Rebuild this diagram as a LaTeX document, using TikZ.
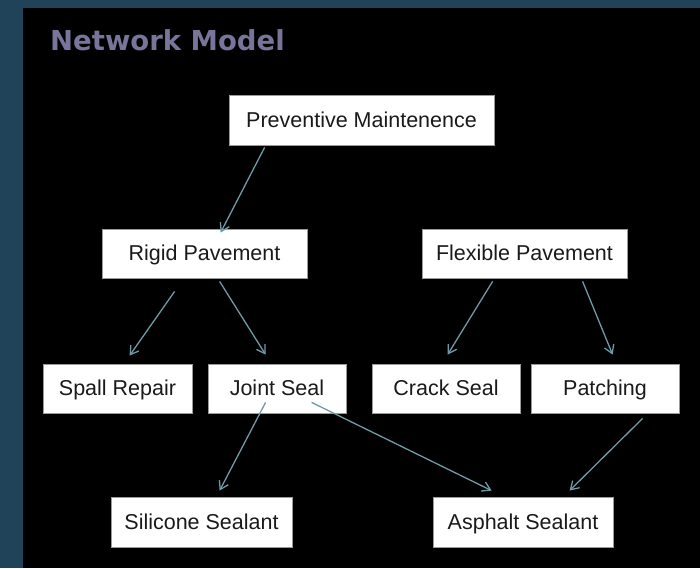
\documentclass[tikz,border=0pt]{standalone}
\usepackage{fontspec}
\setmainfont{Liberation Sans}
\newfontfamily\titlefont{DejaVu Sans}
\usetikzlibrary{arrows.meta,calc}
\definecolor{bgblue}{HTML}{204359}
\definecolor{titlecol}{HTML}{78749A}
\definecolor{arrcol}{HTML}{6F9AA6}
\definecolor{boxline}{HTML}{9A9A9A}
\definecolor{txtcol}{HTML}{1A1A1A}
\begin{document}
\begin{tikzpicture}[x=1pt,y=-1pt,
  box/.style={draw=boxline,line width=0.8pt,fill=white,inner sep=0pt,
    text height=16pt,text depth=2pt,
    minimum height=49pt,text=txtcol,font=\fontsize{21.5}{24}\selectfont},
  arr/.style={draw=arrcol,line width=1.3pt,-{Straight Barb[length=8pt,width=10pt]}}]
\useasboundingbox (0,0) rectangle (700,568);
\fill[bgblue] (0,0) rectangle (700,568);
\fill[black] (23,8) rectangle (700,568);
\node[anchor=base west,inner sep=0pt,text=titlecol,font=\titlefont\bfseries\fontsize{27.5}{30}\selectfont] (title) at (50,50) {Network Model};
% nodes
\node[box,minimum width=265pt,minimum height=50pt] (pm) at (361.5,120) {Preventive Maintenence};
\node[box,minimum width=205pt] (rp) at (204.5,253.5) {Rigid Pavement};
\node[box,minimum width=205pt] (fp) at (524.5,253.5) {Flexible Pavement};
\node[box,minimum width=149pt] (sr) at (117.5,388.5) {Spall Repair};
\node[box,minimum width=138pt] (js) at (277,388.5) {Joint Seal};
\node[box,minimum width=148pt] (cs) at (446,388.5) {Crack Seal};
\node[box,minimum width=148pt] (pa) at (605,388.5) {Patching};
\node[box,minimum width=181pt,minimum height=50pt] (ss) at (201.5,522) {Silicone Sealant};
\node[box,minimum width=180pt,minimum height=50pt] (as) at (523,522) {Asphalt Sealant};
% connectors
\draw[arr] ($(pm.south west)+(36,2)$) -- ($(rp.north west)+(119,4)$);
\draw[arr] ($(rp.south west)+(73,13)$) -- ($(sr.north west)+(87,-8)$);
\draw[arr] ($(rp.south west)+(118,3)$) -- ($(js.north west)+(58,-9)$);
\draw[arr] ($(fp.south west)+(71,3)$) -- ($(cs.north west)+(76,-9)$);
\draw[arr] ($(fp.south west)+(161,3)$) -- ($(pa.north west)+(82,-9)$);
\draw[arr] ($(js.south west)+(58,-11)$) -- ($(ss.north west)+(109,-6)$);
\draw[arr] ($(js.south west)+(104,-11)$) -- ($(as.north west)+(59,-6)$);
\draw[arr] ($(pa.south west)+(112,5)$) -- ($(as.north west)+(137,-6)$);
\end{tikzpicture}
\end{document}
